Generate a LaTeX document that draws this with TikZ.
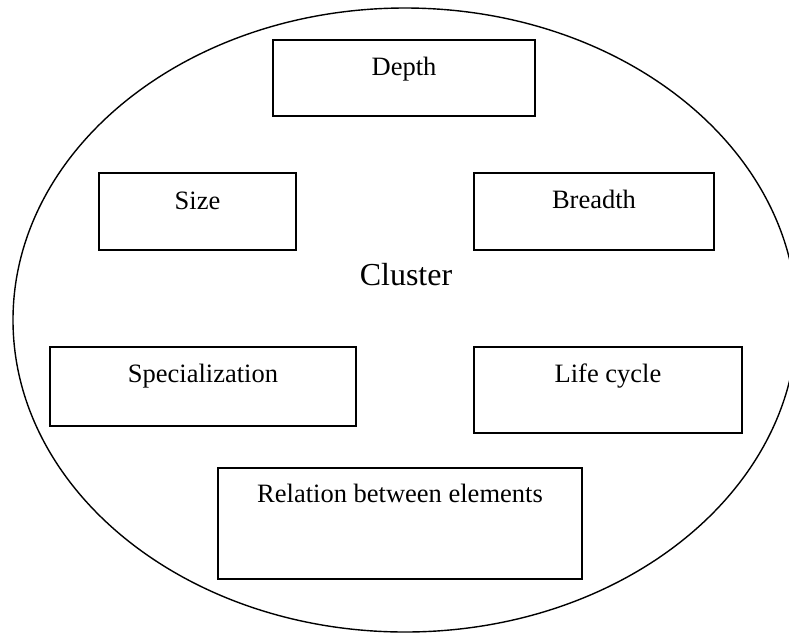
\documentclass[tikz,border=0pt]{standalone}
\usepackage{fontspec}
\setmainfont{Liberation Serif}
\begin{document}
\begin{tikzpicture}[x=1pt,y=-1pt,
  box/.style={draw=black, line width=1.3pt, rectangle, inner sep=0pt},
  lbl/.style={anchor=base, inner sep=0pt, font=\fontsize{26.5}{30}\selectfont},
  bigl/.style={anchor=base, inner sep=0pt, font=\fontsize{32}{36}\selectfont}]
\useasboundingbox (0,0) rectangle (789,633);
\clip (0,0) rectangle (789,633);
\fill[white] (0,0) rectangle (789,633);
\draw[line width=1.4pt] (405,320) ellipse [x radius=392, y radius=312];
\node[box, minimum width=262pt, minimum height=76pt] (depth) at (404,78) {};
\node[box, minimum width=197pt, minimum height=77pt] (size) at (197.5,211.5) {};
\node[box, minimum width=240pt, minimum height=77pt] (breadth) at (594,211.5) {};
\node[box, minimum width=306pt, minimum height=79pt] (spec) at (203,386.5) {};
\node[box, minimum width=268pt, minimum height=86pt] (life) at (608,390) {};
\node[box, minimum width=364pt, minimum height=111pt] (rel) at (400,523.5) {};
\node[lbl] (tdepth) at ([yshift=-36pt]depth.north) {Depth};
\node[lbl] (tsize) at ([yshift=-37pt]size.north) {Size};
\node[lbl] (tbreadth) at ([yshift=-36pt]breadth.north) {Breadth};
\node[lbl] (tspec) at ([yshift=-36pt]spec.north) {Specialization};
\node[lbl] (tlife) at ([yshift=-36pt]life.north) {Life cycle};
\node[lbl] (trel) at ([yshift=-35pt]rel.north) {Relation between elements};
\node[bigl] (cluster) at (406,285) {Cluster};
\end{tikzpicture}
\end{document}
